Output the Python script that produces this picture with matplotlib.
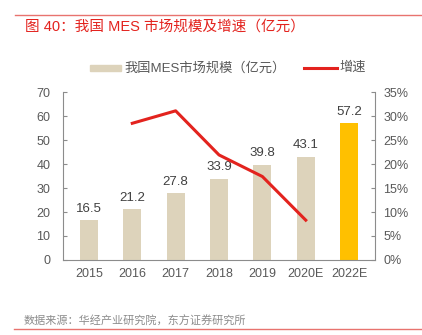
import matplotlib
matplotlib.use("Agg")
import matplotlib.pyplot as plt
from matplotlib.lines import Line2D
from matplotlib.patches import Rectangle
import numpy as np

plt.rcParams['font.family'] = ['Liberation Sans', 'Noto Sans CJK SC', 'DejaVu Sans']

# data
years = ["2015", "2016", "2017", "2018", "2019", "2020E", "2022E"]
market = [16.5, 21.2, 27.8, 33.9, 39.8, 43.1, 57.2]
growth_years = ["2016", "2017", "2018", "2019", "2020E"]
growth = [28.5, 31.1, 21.9, 17.4, 8.3]

BEIGE = "#ddd3bb"
GOLD = "#ffc000"
RED = "#e3231e"
TXT = "#595959"
SPINE = "#8c8c8c"

fig = plt.figure(figsize=(4.22, 3.35), dpi=100)
ax = fig.add_axes([0.149, 0.224, 0.740, 0.501])

x = np.arange(len(years))
colors = [BEIGE] * (len(years) - 1) + [GOLD]
ax.bar(x, market, width=0.42, color=colors, zorder=2)
for xi, v in zip(x, market):
    ax.text(xi, v + 2.2, f"{v}", ha="center", va="bottom", fontsize=9.5, color="#404040")

ax.set_ylim(0, 70)
ax.set_yticks(range(0, 71, 10))
ax.set_xlim(-0.6, len(years) - 0.4)
ax.set_xticks(x)
ax.set_xticklabels(years)
ax.tick_params(axis="y", direction="in", length=3, colors=SPINE, labelcolor=TXT, labelsize=9, pad=9)
ax.tick_params(axis="x", length=0, labelcolor=TXT, labelsize=9, pad=6)
for s in ["top", "right"]:
    ax.spines[s].set_visible(False)
ax.spines["left"].set_color(SPINE)
ax.spines["bottom"].set_color(SPINE)

ax2 = ax.twinx()
gx = [years.index(g) for g in growth_years]
ax2.plot(gx, growth, color=RED, linewidth=2.2, zorder=3)
ax2.set_ylim(0, 35)
ax2.set_yticks(range(0, 36, 5))
ax2.set_yticklabels([f"{t}%" for t in range(0, 36, 5)])
ax2.tick_params(axis="y", direction="in", length=3, colors=SPINE, labelcolor=TXT, labelsize=9, pad=6)
for s in ["top", "left", "bottom"]:
    ax2.spines[s].set_visible(False)
ax2.spines["right"].set_color(SPINE)

# legend (manual)
fig.add_artist(Rectangle((90 / 422, 1 - 70.5 / 335), 31 / 422, 5 / 335,
                         transform=fig.transFigure, color=BEIGE))
fig.text(124 / 422, 1 - 68 / 335, "我国MES市场规模（亿元）", fontsize=9.5, color=TXT, va="center")
fig.add_artist(Line2D([304 / 422, 337 / 422], [1 - 68 / 335] * 2, transform=fig.transFigure,
                      color=RED, linewidth=2.2))
fig.text(339 / 422, 1 - 68 / 335, "增速", fontsize=9.5, color=TXT, va="center")

# title and frame lines
fig.add_artist(Line2D([15 / 422, 1], [1 - 15 / 335] * 2, transform=fig.transFigure,
                      color="#e8736f", linewidth=1))
fig.text(25 / 422, 1 - 27 / 335, "图 40：我国 MES 市场规模及增速（亿元）", fontsize=10.5,
         color="#e3231e", fontweight="medium", va="center")
fig.text(24 / 422, 1 - 321 / 335, "数据来源：华经产业研究院，东方证券研究所", fontsize=8,
         color="#8c8c8c", va="center")
fig.add_artist(Line2D([14 / 422, 1], [1 - 329 / 335] * 2, transform=fig.transFigure,
                      color="#e8736f", linewidth=1))

fig.savefig("out.png", dpi=100)
